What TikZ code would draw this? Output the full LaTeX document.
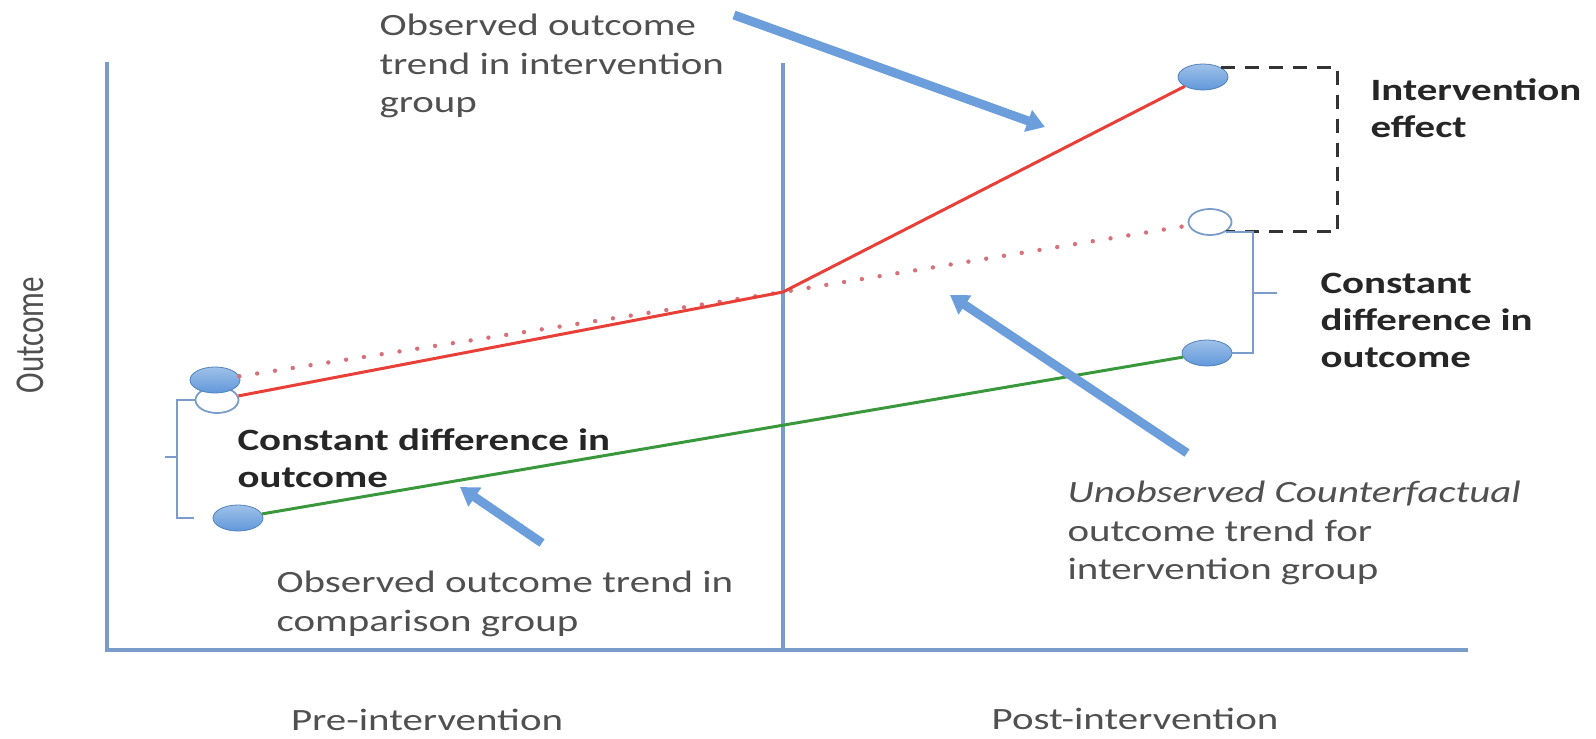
\documentclass[tikz,border=0pt]{standalone}
\usepackage{fontspec}
\setmainfont{Carlito}
\usetikzlibrary{arrows.meta,shapes.geometric}
\definecolor{axisblue}{RGB}{122,156,203}
\definecolor{ptblue}{RGB}{96,152,218}
\definecolor{arrowblue}{RGB}{108,158,219}
\definecolor{trendred}{RGB}{232,64,56}
\definecolor{dotred}{RGB}{214,112,122}
\definecolor{trendgreen}{RGB}{58,152,60}
\definecolor{txtgray}{RGB}{80,80,80}
\definecolor{txtdark}{RGB}{38,38,38}
\tikzset{
	axisline/.style={draw=axisblue,line width=2.2pt},
	filledpt/.style={ellipse,draw=ptblue!85!black,line width=0.4pt,top color=ptblue!60!white,bottom color=ptblue,inner sep=0pt,minimum width=25pt,minimum height=13pt},
	openpt/.style={ellipse,draw=axisblue,fill=white,line width=0.9pt,inner sep=0pt,minimum width=21.5pt,minimum height=13pt},
	lbl/.style={align=left,inner sep=0pt,xscale=1.32,text=txtgray,font=\fontsize{15.5pt}{19.25pt}\selectfont},
	boldlbl/.style={lbl,text=txtdark,font=\fontsize{15.5pt}{18.5pt}\selectfont\bfseries},
	trend/.style={line width=1.5pt},
	cf/.style={draw=dotred,line width=2.2pt,line cap=round,dash pattern=on 0pt off 9pt},
	bracket/.style={draw=axisblue,line width=1pt},
	effect/.style={draw=black!80,line width=1.5pt,dash pattern=on 7pt off 5pt},
	pointer/.style={draw=arrowblue,line width=4.5pt,-{Triangle[length=9pt,width=11pt]}}
}
\begin{document}
\begin{tikzpicture}[x=0.5pt,y=-0.5pt]
	\useasboundingbox (0,0) rectangle (1596,739);
	% axes and intervention time
	\draw[axisline] (107,62) -- (107,650) -- (1468,650);
	\draw[axisline,line width=1.8pt] (783,63) -- (783,650);
	% outcome points
	\node[openpt] (cfpre) at (217,400) {};
	\node[filledpt] (ipre) at (215,380) {};
	\node[filledpt] (cpre) at (238,518) {};
	\node[filledpt] (ipost) at (1203,77) {};
	\node[openpt] (cfpost) at (1210,222) {};
	\node[filledpt] (cpost) at (1207,353) {};
	\coordinate (mid) at (783,292);
	% trends
	\draw[cf] (ipre) -- (mid) -- (cfpost);
	\draw[trend,trendred] (cfpre) -- (mid) -- (ipost);
	\draw[trend,trendgreen] (cpre) -- (cpost);
	% effect and brackets
	\draw[effect] (ipost.north east) -- ++(117,0) |- (cfpost.south east);
	\coordinate (lbot) at (194,518);
	\draw[bracket] (cfpre.west) -- ++(-18,0) |- (lbot);
	\draw[bracket] (177.5,457) -- ++(-13,0);
	\draw[bracket] (cfpost.south east) -- ++(27,0) |- (cpost.east);
	\draw[bracket] (1252,293) -- ++(25,0);
	% labels
	\node[lbl,anchor=north west] (obsi) at (379,14) {Observed outcome\\trend in intervention\\group};
	\node[boldlbl,anchor=north west] (eff) at (1370,78) {Intervention\\effect};
	\node[boldlbl,anchor=north west] (cdr) at (1320,273) {Constant\\difference in\\outcome};
	\node[boldlbl,anchor=north west] (cdl) at (237,428) {Constant difference in\\outcome};
	\node[lbl,anchor=north west] (obsc) at (276,571) {Observed outcome trend in\\comparison group};
	\node[lbl,anchor=north west] (unobs) at (1067,481) {\textit{Unobserved Counterfactual}\\outcome trend for\\intervention group};
	\node[lbl,anchor=base] (pre) at (427,730) {Pre-intervention};
	\node[lbl,anchor=base] (post) at (1135,729) {Post-intervention};
	\node[text=txtgray,inner sep=0pt,font=\fontsize{15.5pt}{19pt}\selectfont,xscale=1.32,rotate=90] (outc) at (30,335) {Outcome};
	% pointers
	\coordinate (a1s) at (734,15);
	\coordinate (a1e) at (1045,127);
	\coordinate (a2s) at (1187,453);
	\coordinate (a2e) at (950,295);
	\coordinate (a3s) at (542,543);
	\coordinate (a3e) at (460,487);
	\draw[pointer] (a1s) -- (a1e);
	\draw[pointer] (a2s) -- (a2e);
	\draw[pointer] (a3s) -- (a3e);
\end{tikzpicture}
\end{document}
